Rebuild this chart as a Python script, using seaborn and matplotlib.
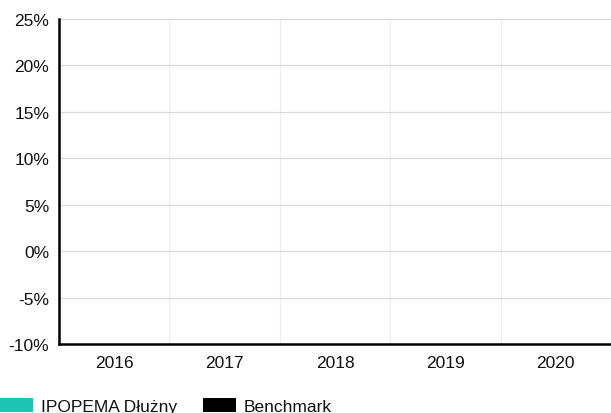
import numpy as np
import pandas as pd
import matplotlib
matplotlib.use('Agg')
import matplotlib.pyplot as plt
import seaborn as sns
from matplotlib.patches import Patch
from matplotlib.ticker import FixedLocator, FuncFormatter

YEARS = ['2016', '2017', '2018', '2019', '2020']
SERIES = ['IPOPEMA Dłużny', 'Benchmark']
# no values are shown in the reference - bars are empty
FUND = [np.nan, np.nan, np.nan, np.nan, np.nan]
BENCH = [np.nan, np.nan, np.nan, np.nan, np.nan]
Y_TICKS = [-10, -5, 0, 5, 10, 15, 20, 25]
COLORS = ['#1cc4b3', '#000000']

df = pd.DataFrame({
    'year': YEARS * 2,
    'series': [SERIES[0]] * len(YEARS) + [SERIES[1]] * len(YEARS),
    'value': FUND + BENCH,
})

sns.set_style('white')
plt.rcParams['font.family'] = ['Liberation Sans', 'DejaVu Sans']

fig = plt.figure(figsize=(6.11, 4.14), dpi=100)
ax = fig.add_axes([59 / 611, 69 / 414, 1 - 59 / 611, 325 / 414])

plot_df = df.dropna()
if len(plot_df):
    sns.barplot(data=plot_df, x='year', y='value', hue='series',
                palette=COLORS, order=YEARS, ax=ax, legend=False)

ax.set_xlim(-0.5, len(YEARS) - 0.5)
ax.set_ylim(Y_TICKS[0], Y_TICKS[-1])
ax.set_xticks(range(len(YEARS)))
ax.set_xticklabels(YEARS)
ax.xaxis.set_minor_locator(FixedLocator(np.arange(0.5, len(YEARS) - 0.5, 1)))
ax.set_yticks(Y_TICKS)
ax.yaxis.set_major_formatter(FuncFormatter(lambda v, _: f'{v:.0f}%'))

ax.grid(axis='y', color='#d9d9d9', linewidth=0.9)
for x in np.arange(-0.5, len(YEARS) + 0.5, 1):
    ax.axvline(x, color='#ececec', linewidth=0.8, zorder=0)
ax.set_axisbelow(True)

for side in ['top', 'right']:
    ax.spines[side].set_visible(False)
for side in ['left', 'bottom']:
    ax.spines[side].set_color('#000000')
    ax.spines[side].set_linewidth(1.8)

FS = 12.5
ax.tick_params(axis='x', which='major', length=0, labelsize=FS, pad=8, colors='#111111')
ax.tick_params(axis='x', which='minor', length=4, width=1, color='#333333')
ax.tick_params(axis='y', length=3, width=0.8, color='#999999', labelsize=FS,
               pad=4, labelcolor='#111111')
ax.set_xlabel('')
ax.set_ylabel('')

handles = [Patch(facecolor=c, edgecolor='none', label=s) for s, c in zip(SERIES, COLORS)]
fig.legend(handles=handles, loc='center left', bbox_to_anchor=(0, 7 / 414),
           ncol=2, frameon=False, fontsize=FS, handlelength=1.9, handleheight=0.85,
           handletextpad=0.45, columnspacing=1.5, borderpad=0, borderaxespad=0,
           labelcolor='#111111')

fig.savefig('out.png', dpi=100)
